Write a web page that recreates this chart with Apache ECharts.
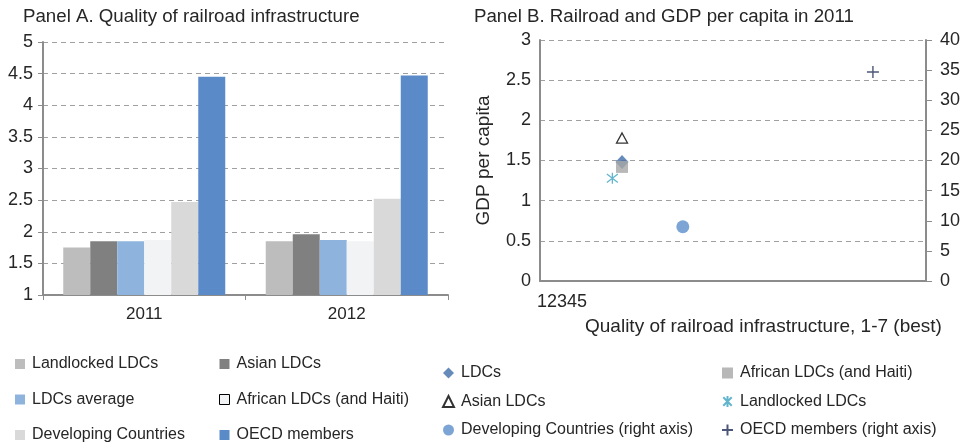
<!DOCTYPE html>
<html>
<head>
<meta charset="utf-8">
<script src="https://cdn.jsdelivr.net/npm/echarts@6/dist/echarts.min.js"></script>
<style>html,body{margin:0;padding:0;background:#fff;}#c{width:970px;height:445px;}</style>
</head>
<body>
<div id="c"></div>
<script>
// Panel A data
const yearsA = ['2011', '2012'];
const groupNamesA = ['Landlocked LDCs', 'Asian LDCs', 'LDCs average', 'African LDCs (and Haiti)', 'Developing Countries', 'OECD members'];
const landlockedA = [1.75, 1.85];
const asianA = [1.85, 1.96];
const ldcAvgA = [1.85, 1.87];
const africanA = [1.87, 1.85];
const developingA = [2.47, 2.52];
const oecdA = [4.45, 4.47];
const yTicksA = [1, 1.5, 2, 2.5, 3, 3.5, 4, 4.5, 5];

// Panel B data: [quality of railroad 2011, GDP per capita]
const ldcsB = [[1.85, 1.48]];
const africanB = [[1.85, 1.42]];
const asianB = [[1.85, 1.78]];
const landlockedB = [[1.75, 1.28]];
const developingB = [[2.48, 9.0]];   // right axis
const oecdB = [[4.45, 34.7]];        // right axis
const xTickTextB = '12345';

const font = 'Liberation Sans, Arial, Helvetica, sans-serif';
const txt = '#262626';
const axisGray = '#8c8c8c';
const gridGray = '#a0a0a0';

const barColors = ['#bdbdbd', '#808080', '#8eb4de', '#f2f3f5', '#d9d9d9', '#5a8bc8'];
const barValues = [landlockedA, asianA, ldcAvgA, africanA, developingA, oecdA];

const barSeries = groupNamesA.map((n, i) => ({
  name: n, type: 'bar', xAxisIndex: 0, yAxisIndex: 0,
  data: barValues[i], barGap: 0, barCategoryGap: '20%',
  itemStyle: { color: barColors[i] }, silent: true
}));

const asteriskPath = 'path://M0,0L10,10M10,0L0,10M5,-1.5L5,11.5';
const plusPath = 'path://M5,0L5,10M0,5L10,5';

// scatter series names carry a trailing space to keep them apart from the bar series of panel A
const scatterSeries = [
  { name: 'LDCs', type: 'scatter', xAxisIndex: 1, yAxisIndex: 1, data: ldcsB,
    symbol: 'diamond', symbolSize: [13, 14], itemStyle: { color: '#3f6eaa' } },
  { name: 'African LDCs (and Haiti) ', type: 'scatter', xAxisIndex: 1, yAxisIndex: 1, data: africanB,
    symbol: 'rect', symbolSize: 12, itemStyle: { color: '#a6a6a6' } },
  { name: 'Asian LDCs ', type: 'scatter', xAxisIndex: 1, yAxisIndex: 1, data: asianB,
    symbol: 'triangle', symbolSize: [11, 10], itemStyle: { color: '#fff', borderColor: '#000', borderWidth: 1.3 } },
  { name: 'Landlocked LDCs ', type: 'scatter', xAxisIndex: 1, yAxisIndex: 1, data: landlockedB,
    symbol: asteriskPath, symbolSize: 11, itemStyle: { color: 'rgba(0,0,0,0)', borderColor: '#3ba3c0', borderWidth: 1.3 } },
  { name: 'Developing Countries (right axis)', type: 'scatter', xAxisIndex: 1, yAxisIndex: 2, data: developingB,
    symbol: 'circle', symbolSize: 13, itemStyle: { color: '#5b8ecb' } },
  { name: 'OECD members (right axis)', type: 'scatter', xAxisIndex: 1, yAxisIndex: 2, data: oecdB,
    symbol: plusPath, symbolSize: 12, itemStyle: { color: 'rgba(0,0,0,0)', borderColor: '#1f2d55', borderWidth: 1.4 } }
];

const legendText = { fontFamily: font, fontSize: 16, color: txt, lineHeight: 16, padding: [0, 0, 0, 2] };

const option = {
  animation: false,
  backgroundColor: '#fff',
  textStyle: { fontFamily: font },
  title: [
    { text: 'Panel A. Quality of railroad infrastructure', left: 18, top: 2,
      textStyle: { fontFamily: font, fontSize: 18.7, fontWeight: 'normal', color: txt } },
    { text: 'Panel B. Railroad and GDP per capita in 2011', left: 469, top: 2,
      textStyle: { fontFamily: font, fontSize: 18.7, fontWeight: 'normal', color: txt } }
  ],
  grid: [
    { left: 43, top: 42, right: 522, bottom: 150 },
    { left: 540, top: 40, right: 44, bottom: 164 }
  ],
  xAxis: [
    { gridIndex: 0, type: 'category', data: yearsA,
      axisLine: { lineStyle: { color: axisGray, width: 2 } },
      axisTick: { show: true, length: 5, lineStyle: { color: axisGray } },
      axisLabel: { fontFamily: font, fontSize: 17, color: txt, margin: 11 },
      splitLine: { show: false } },
    { gridIndex: 1, type: 'value', min: 1, max: 5,
      axisLine: { show: true, onZero: false, lineStyle: { color: axisGray, width: 2 } },
      axisTick: { show: false }, axisLabel: { show: false }, splitLine: { show: false } }
  ],
  yAxis: [
    { gridIndex: 0, type: 'value', min: yTicksA[0], max: yTicksA[yTicksA.length - 1], interval: 0.5,
      axisLine: { show: true, lineStyle: { color: axisGray, width: 2 } },
      axisTick: { show: true, length: 5, lineStyle: { color: axisGray } },
      axisLabel: { fontFamily: font, fontSize: 18, color: txt, margin: 10 },
      splitLine: { show: true, lineStyle: { color: gridGray, type: [5, 4], width: 1 } } },
    { gridIndex: 1, type: 'value', min: 0, max: 3, interval: 0.5, position: 'left',
      name: 'GDP per capita', nameLocation: 'middle', nameGap: 47,
      nameTextStyle: { fontFamily: font, fontSize: 19, color: txt },
      axisLine: { show: true, lineStyle: { color: axisGray, width: 2 } },
      axisTick: { show: false },
      axisLabel: { fontFamily: font, fontSize: 18, color: txt, margin: 9 },
      splitLine: { show: true, lineStyle: { color: gridGray, type: [5, 4], width: 1 } } },
    { gridIndex: 1, type: 'value', min: 0, max: 40, interval: 5, position: 'right',
      axisLine: { show: true, lineStyle: { color: axisGray, width: 2 } },
      axisTick: { show: true, length: 6, lineStyle: { color: axisGray } },
      axisLabel: { fontFamily: font, fontSize: 18, color: txt, margin: 14 },
      splitLine: { show: false } }
  ],
  legend: [
    { orient: 'vertical', left: 10, top: 351, height: 120, itemWidth: 10, itemHeight: 10, itemGap: 19.5,
      textStyle: legendText, selectedMode: false,
      data: [
        { name: 'Landlocked LDCs', icon: 'rect' },
        { name: 'LDCs average', icon: 'rect' },
        { name: 'Developing Countries', icon: 'rect' }
      ] },
    { orient: 'vertical', left: 214, top: 351, height: 120, itemWidth: 10, itemHeight: 10, itemGap: 19.5,
      textStyle: legendText, selectedMode: false,
      data: [
        { name: 'Asian LDCs', icon: 'rect' },
        { name: 'African LDCs (and Haiti)', icon: 'rect', itemStyle: { borderColor: '#000', borderWidth: 1 } },
        { name: 'OECD members', icon: 'rect' }
      ] },
    { orient: 'vertical', left: 437, top: 360, height: 120, itemWidth: 11, itemHeight: 11, itemGap: 12.5,
      textStyle: legendText, selectedMode: false,
      data: ['LDCs', 'Asian LDCs ', 'Developing Countries (right axis)'].map(n => ({ name: n })) },
    { orient: 'vertical', left: 716, top: 360, height: 120, itemWidth: 11, itemHeight: 11, itemGap: 12.5,
      textStyle: legendText, selectedMode: false,
      data: ['African LDCs (and Haiti) ', 'Landlocked LDCs ', 'OECD members (right axis)'].map(n => ({ name: n })) }
  ],
  graphic: [
    { type: 'text', left: 537, top: 293, style: { text: xTickTextB, font: '18px ' + font, fill: txt } },
    { type: 'text', left: 585, top: 317, style: { text: 'Quality of railroad infrastructure, 1-7 (best)', font: '19px ' + font, fill: txt } }
  ],
  series: barSeries.concat(scatterSeries)
};

const chart = echarts.init(document.getElementById('c'), null, { renderer: 'canvas' });
chart.setOption(option);
</script>
</body>
</html>
